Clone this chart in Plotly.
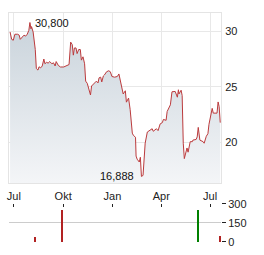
import plotly.graph_objects as go

# ---- data ----
price_dates = [
    "2023-06-24", "2023-06-27", "2023-06-30", "2023-07-03", "2023-07-08", "2023-07-11",
    "2023-07-13", "2023-07-17", "2023-07-20", "2023-07-23", "2023-07-26", "2023-07-29",
    "2023-07-31", "2023-08-02", "2023-08-03", "2023-08-06", "2023-08-10", "2023-08-12",
    "2023-08-15", "2023-08-17", "2023-08-20", "2023-08-23", "2023-08-26", "2023-08-28",
    "2023-08-31", "2023-09-03", "2023-09-06", "2023-09-10", "2023-09-13", "2023-09-16",
    "2023-09-18", "2023-09-22", "2023-09-26", "2023-10-02", "2023-10-07", "2023-10-12",
    "2023-10-15", "2023-10-18", "2023-10-20", "2023-10-22", "2023-10-25", "2023-10-27",
    "2023-10-30", "2023-11-02", "2023-11-04", "2023-11-07", "2023-11-10", "2023-11-12",
    "2023-11-15", "2023-11-18", "2023-11-21", "2023-11-23", "2023-11-26", "2023-11-29",
    "2023-12-02", "2023-12-05", "2023-12-07", "2023-12-10", "2023-12-12", "2023-12-15",
    "2023-12-17", "2023-12-21", "2023-12-25", "2023-12-28", "2023-12-31", "2024-01-05",
    "2024-01-10", "2024-01-13", "2024-01-16", "2024-01-21", "2024-01-25", "2024-01-27",
    "2024-01-31", "2024-02-03", "2024-02-07", "2024-02-09", "2024-02-13", "2024-02-14",
    "2024-02-16", "2024-02-20", "2024-02-22", "2024-02-24", "2024-02-27", "2024-02-29",
    "2024-03-02", "2024-03-06", "2024-03-10", "2024-03-15", "2024-03-17", "2024-03-23",
    "2024-03-26", "2024-03-30", "2024-04-03", "2024-04-05", "2024-04-10", "2024-04-12",
    "2024-04-18", "2024-04-21", "2024-04-27", "2024-05-01", "2024-05-03", "2024-05-04",
    "2024-05-08", "2024-05-10", "2024-05-12", "2024-05-14", "2024-05-19", "2024-05-21",
    "2024-05-25", "2024-05-29", "2024-05-30", "2024-06-05", "2024-06-07", "2024-06-09",
    "2024-06-12", "2024-06-18", "2024-06-20", "2024-06-24", "2024-06-27", "2024-06-29",
    "2024-07-05", "2024-07-07", "2024-07-14", "2024-07-16", "2024-07-18", "2024-07-20",
]
price_values = [
    29.94, 29.28, 29.20, 29.74, 29.74, 29.66,
    29.28, 29.50, 29.66, 29.57, 29.74, 30.09,
    30.80, 30.23, 30.43, 29.94, 28.36, 26.64,
    26.50, 26.80, 26.70, 26.87, 27.50, 27.07,
    27.20, 27.13, 27.27, 27.07, 27.16, 26.87,
    27.27, 26.92, 26.78, 26.78, 26.90, 27.00,
    29.03, 28.80, 27.85, 28.50, 28.50, 27.99,
    28.36, 28.36, 27.40, 27.70, 27.07, 25.50,
    25.30, 24.77, 24.25, 25.06, 25.20, 25.34,
    25.50, 25.34, 25.80, 25.86, 25.43, 25.97,
    26.06, 26.35, 26.44, 26.35, 25.92, 25.86,
    25.92, 26.15, 25.34, 24.34, 24.63, 23.60,
    23.97, 22.93, 20.80, 20.60, 20.43, 18.73,
    18.45, 18.19, 18.62, 16.888, 16.98, 18.45,
    19.90, 20.90, 21.03, 21.20, 20.97, 21.20,
    21.03, 21.64, 21.75, 22.04, 21.96, 22.76,
    23.36, 24.54, 24.57, 24.05, 24.72, 24.34,
    24.68, 24.20, 19.89, 18.50, 19.46, 19.08,
    20.03, 20.03, 20.17, 20.23, 20.46, 21.32,
    20.17, 20.03, 19.89, 20.52, 20.75, 21.60,
    23.04, 22.61, 22.61, 23.62, 23.19, 21.75,
]

volume_dates = ["2023-08-09", "2023-09-28", "2024-06-08", "2024-07-19"]
volume_values = [40, 253, 253, 52]
volume_colors = ["#b22222", "#b22222", "#008000", "#b22222"]

month_ticks = ["2023-07-01", "2023-10-01", "2024-01-01", "2024-04-01", "2024-07-01"]
month_labels = ["Jul", "Okt", "Jan", "Apr", "Jul"]
price_ticks = [20, 25, 30]
volume_ticks = [0, 150, 300]

hi_label = "30,800"
lo_label = "16,888"

# ---- figure ----
FONT = "Liberation Sans, Arial, sans-serif"
x_range = ["2023-06-22", "2024-07-21 10:00"]

fig = go.Figure()
fig.add_trace(go.Scatter(
    x=price_dates, y=price_values, mode="lines",
    line=dict(color="#bb3a3c", width=1),
    fill="tozeroy",
    fillgradient=dict(type="vertical", start=16.25, stop=31.0,
                      colorscale=[[0, "#f6f7f9"], [1, "#c9d3db"]]),
    xaxis="x", yaxis="y", hoverinfo="skip",
))
fig.add_trace(go.Bar(
    x=volume_dates, y=volume_values, marker=dict(color=volume_colors, line=dict(width=0)),
    width=[2.0 * 86400000] * len(volume_dates),
    xaxis="x2", yaxis="y2", hoverinfo="skip",
))

i_max = price_values.index(max(price_values))
i_min = price_values.index(min(price_values))
fig.add_annotation(x=price_dates[i_max], y=price_values[i_max], text=hi_label,
                   showarrow=False, xanchor="left", yanchor="middle", xshift=3,
                   font=dict(family=FONT, size=11, color="#111"), xref="x", yref="y")
fig.add_annotation(x=price_dates[i_min], y=price_values[i_min], text=lo_label,
                   showarrow=False, xanchor="right", yanchor="middle", xshift=-5,
                   font=dict(family=FONT, size=11, color="#111"), xref="x", yref="y")

fig.update_layout(
    width=264, height=255,
    margin=dict(l=8, r=43, t=7, b=8),
    paper_bgcolor="white", plot_bgcolor="white",
    showlegend=False, bargap=0,
    font=dict(family=FONT, size=11, color="#222"),
    xaxis=dict(domain=[0, 1], range=x_range, type="date",
               tickvals=month_ticks, ticktext=month_labels,
               showgrid=True, gridcolor="#e8e8e8", gridwidth=1,
               showline=True, linecolor="#e4e4e4", mirror=True,
               ticks="", ticklabelstandoff=2, anchor="y", fixedrange=True),
    yaxis=dict(domain=[0.2555, 1], range=[16.25, 31.66], side="right",
               tickvals=price_ticks, showgrid=True, gridcolor="#e8e8e8",
               showline=True, linecolor="#e4e4e4", mirror=True, zeroline=False,
               ticks="", ticklabelstandoff=1, anchor="x"),
    xaxis2=dict(domain=[0, 1], range=x_range, type="date", anchor="y2", side="top",
                tickvals=month_ticks, showticklabels=False, showgrid=False,
                ticks="inside", ticklen=3, tickcolor="#222", tickwidth=1,
                showline=False, zeroline=False),
    yaxis2=dict(domain=[0, 0.1667], range=[0, 300], side="right", anchor="x2",
                tickvals=volume_ticks, showgrid=True, gridcolor="#cccccc",
                zeroline=False, showline=False,
                ticks="outside", ticklen=4, tickcolor="#222", ticklabelstandoff=0),
)

fig.write_html("out.html")
